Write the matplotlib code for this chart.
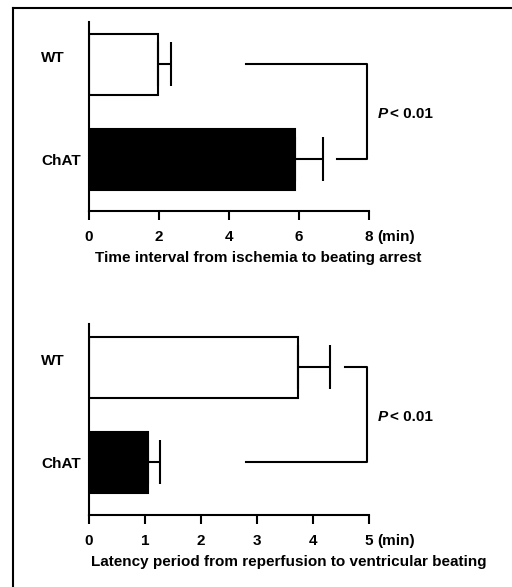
import matplotlib
matplotlib.use("Agg")
import matplotlib.pyplot as plt
from matplotlib.lines import Line2D

plt.rcParams['font.family'] = ['Liberation Sans', 'DejaVu Sans']
plt.rcParams['font.weight'] = 'bold'

groups = ["WT", "ChAT"]
colors = ["white", "black"]

# Panel 1: time interval from ischemia to beating arrest (min)
p1_means = [1.97, 5.89]
p1_sem = [0.37, 0.80]
p1_ticks = [0, 2, 4, 6, 8]
p1_xlabel = "Time interval from ischemia to beating arrest"
p1_bracket_x = [4.49, 7.94, 7.09]  # WT-side start, vertical x, ChAT-side start

# Panel 2: latency from reperfusion to ventricular beating (min)
p2_means = [3.73, 1.05]
p2_sem = [0.57, 0.21]
p2_ticks = [0, 1, 2, 3, 4, 5]
p2_xlabel = "Latency period from reperfusion to ventricular beating"
p2_bracket_x = [4.58, 4.96, 2.80]

W, H = 512, 587
fig = plt.figure(figsize=(W / 100, H / 100), dpi=100)

# outer frame (top and left)
fig.add_artist(Line2D([13 / W, 1.0], [1 - 8 / H, 1 - 8 / H], color="black", lw=1.5))
fig.add_artist(Line2D([13 / W, 13 / W], [1 - 8 / H, 0.0], color="black", lw=1.5))

FS = 11
label_dy = [4.5, -1.1]  # points, vertical nudge of WT / ChAT labels


def panel(rect, means, sem, ticks, xlabel, bx, ylim, xlabel_pos, xlabel_y):
    ax = fig.add_axes(rect)
    ypos = [1, 0]
    ax.barh(ypos, means, height=0.65, color=colors, edgecolor="black", linewidth=1.5, zorder=2)
    for y, m, e in zip(ypos, means, sem):
        ax.errorbar([m], [y], xerr=[[0], [e]], fmt="none", ecolor="black",
                    elinewidth=1.5, capsize=15.5, capthick=1.5, zorder=3)
    # significance bracket
    ax.plot([bx[0], bx[1], bx[1], bx[2]], [ypos[0], ypos[0], ypos[1], ypos[1]],
            color="black", lw=1.5, clip_on=False)
    pt = ax.annotate("P", xy=(bx[1], 0.5), xycoords="data", xytext=(8, -1.5),
                     textcoords="offset points", fontsize=11, fontweight="bold",
                     fontstyle="italic", va="center", ha="left")
    ax.annotate("< 0.01", xy=(1, 0.5), xycoords=pt, xytext=(1.2, 0),
                textcoords="offset points", fontsize=11, fontweight="bold",
                va="center", ha="left")
    ax.set_xlim(ticks[0], ticks[-1])
    ax.set_ylim(*ylim)
    ax.spines["top"].set_visible(False)
    ax.spines["right"].set_visible(False)
    ax.spines["left"].set_linewidth(1.5)
    ax.spines["bottom"].set_linewidth(1.5)
    ax.set_xticks(ticks)
    ax.set_xticklabels([str(t) for t in ticks], fontsize=FS, fontweight="bold")
    ax.tick_params(axis="x", length=6.5, width=1.5, pad=7)
    ax.set_yticks([])
    for y, g, dy in zip(ypos, groups, label_dy):
        ax.annotate(g, xy=(0, y), xycoords="data", xytext=(-34.6, dy),
                    textcoords="offset points", fontsize=FS, fontweight="bold",
                    ha="left", va="center")
    ax.annotate("(min)", xy=(ticks[-1], 0), xycoords=("data", "axes fraction"),
                xytext=(5.8, -13.6), textcoords="offset points", fontsize=FS,
                fontweight="bold", ha="left", va="top")
    ax.set_xlabel(xlabel, fontsize=FS, fontweight="bold")
    ax.xaxis.set_label_coords(xlabel_pos, xlabel_y)
    ax.patch.set_visible(False)
    return ax


ax1 = panel([89 / W, 1 - 211 / H, 280 / W, 189 / H], p1_means, p1_sem, p1_ticks,
            p1_xlabel, p1_bracket_x, (-0.542, 1.447), 0.604, -0.212)
ax2 = panel([89 / W, 1 - 515 / H, 280 / W, 191 / H], p2_means, p2_sem, p2_ticks,
            p2_xlabel, p2_bracket_x, (-0.553, 1.458), 0.714, -0.208)

fig.savefig("out.png", dpi=100)
